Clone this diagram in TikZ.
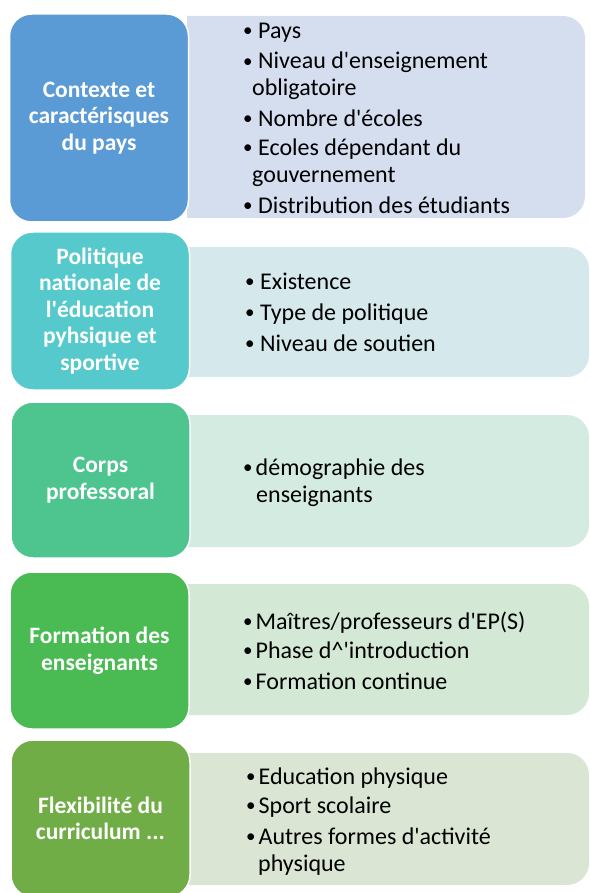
\documentclass[tikz,border=0pt]{standalone}
\usepackage{fontspec}
\setmainfont{Carlito}[Ligatures=TeXOff]
\definecolor{cA}{HTML}{5B9BD5}
\definecolor{pA}{HTML}{D5DEEF}
\definecolor{cB}{HTML}{55C9CB}
\definecolor{pB}{HTML}{D5E9EC}
\definecolor{cC}{HTML}{4EC48E}
\definecolor{pC}{HTML}{D4EBE2}
\definecolor{cD}{HTML}{4ABA53}
\definecolor{pD}{HTML}{D4E8D6}
\definecolor{cE}{HTML}{70AD47}
\definecolor{pE}{HTML}{DAE5D3}
\tikzset{
  catbox/.style={draw=white, line width=1.5pt, rounded corners=22pt, text=white,
    font=\fontsize{23.5}{26.5}\selectfont\bfseries, align=center,
    minimum width=179pt, inner sep=0pt},
  itemtxt/.style={anchor=base west, font=\fontsize{24}{27}\selectfont, text=black, inner sep=0pt},
  panelclip/.style={rounded corners=22pt}
}
\newcommand{\bdot}{\raisebox{1.5pt}{\fontsize{19}{19}\selectfont •}}
\newcommand{\bulA}{\makebox[15pt][l]{\bdot}}
\newcommand{\bulB}{\makebox[12.5pt][l]{\bdot}}
\begin{document}
\begin{tikzpicture}[x=1pt,y=-1pt]
\useasboundingbox (0,0) rectangle (589,893);
% panels
\begin{scope}
  \clip (187,0) rectangle (589,893);
  \fill[pA, panelclip] (120,16) rectangle (585,218);
  \fill[pB, panelclip] (120,247) rectangle (589,377);
  \fill[pC, panelclip] (120,415) rectangle (589,547);
  \fill[pD, panelclip] (120,584) rectangle (589,715);
  \fill[pE, panelclip] (120,753) rectangle (589,885);
\end{scope}
% category boxes
\node[catbox, fill=cA, minimum height=208pt] (kA) at (99,118) {Contexte et\\caractérisques\\du pays};
\node[catbox, fill=cB, minimum height=158pt] (kB) at (100,311) {Politique\\nationale de\\l'éducation\\pyhsique et\\sportive};
\node[catbox, fill=cC, minimum height=156pt] (kC) at (100.5,480) {Corps\\professoral};
\node[catbox, fill=cD, minimum height=157pt] (kD) at (99.5,650.5) {Formation des\\enseignants};
\node[catbox, fill=cE, minimum height=157pt] (kE) at (100.5,818.5) {Flexibilité du\\curriculum ...};
% row 1 items
\node[itemtxt] (a1) at (243,38.5) {\bulA Pays};
\node[itemtxt] (a2) at (243,69) {\bulA Niveau d'enseignement};
\node[itemtxt] (a3) at (252,96) {obligatoire};
\node[itemtxt] (a4) at (243,126.5) {\bulA Nombre d'écoles};
\node[itemtxt] (a5) at (243,155.5) {\bulA Ecoles dépendant du};
\node[itemtxt] (a6) at (252,182.5) {gouvernement};
\node[itemtxt] (a7) at (243,213.5) {\bulA Distribution des étudiants};
% row 2 items
\node[itemtxt] (b1) at (245,289) {\bulA Existence};
\node[itemtxt] (b2) at (245,320) {\bulA Type de politique};
\node[itemtxt] (b3) at (245,351) {\bulA Niveau de soutien};
% row 3 items
\node[itemtxt] (c1) at (243,475) {\bulB démographie des};
\node[itemtxt] (c2) at (256,502) {enseignants};
% row 4 items
\node[itemtxt] (d1) at (243,629) {\bulB Maîtres/professeurs d'EP(S)};
\node[itemtxt] (d2) at (243,658) {\bulB Phase d\textasciicircum'introduction};
\node[itemtxt] (d3) at (243,689) {\bulB Formation continue};
% row 5 items
\node[itemtxt] (e1) at (246,784) {\bulB Education physique};
\node[itemtxt] (e2) at (246,813) {\bulB Sport scolaire};
\node[itemtxt] (e3) at (246,844) {\bulB Autres formes d'activité};
\node[itemtxt] (e4) at (258,871) {physique};
\end{tikzpicture}
\end{document}
